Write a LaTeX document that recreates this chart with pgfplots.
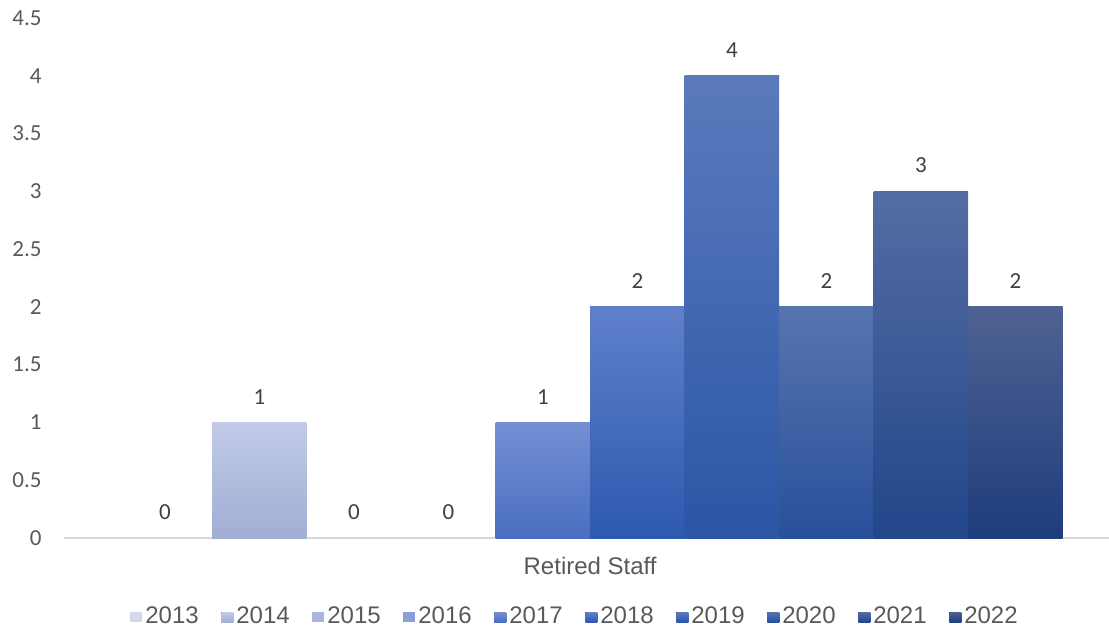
\documentclass[border=0pt]{standalone}
\usepackage{fontspec}
\setmainfont{Liberation Sans}
\newfontfamily\calibri{Carlito}
\usepackage{pgfplots}
\pgfplotsset{compat=1.18}

\definecolor{txt}{HTML}{595959}
\definecolor{lbl}{HTML}{404040}
\definecolor{axl}{HTML}{D9D9D9}

\pgfplotsset{
  s13/.style={fill=c13top},
  s14/.style={top color=c14top, bottom color=c14bot},
  s15/.style={fill=c15top},
  s16/.style={fill=c16top},
  s17/.style={top color=c17top, bottom color=c17bot},
  s18/.style={top color=c18top, bottom color=c18bot},
  s19/.style={top color=c19top, bottom color=c19bot},
  s20/.style={top color=c20top, bottom color=c20bot},
  s21/.style={top color=c21top, bottom color=c21bot},
  s22/.style={top color=c22top, bottom color=c22bot},
}
\definecolor{c13top}{HTML}{D3D8EB}
\definecolor{c14top}{HTML}{C1CAE7}\definecolor{c14bot}{HTML}{A1AED4}
\definecolor{c15top}{HTML}{A9B5DD}
\definecolor{c16top}{HTML}{8A9FD8}
\definecolor{c17top}{HTML}{7490D3}\definecolor{c17bot}{HTML}{4A6EC0}
\definecolor{c18top}{HTML}{5F80CB}\definecolor{c18bot}{HTML}{2D59AE}
\definecolor{c19top}{HTML}{5B7ABD}\definecolor{c19bot}{HTML}{2B56A5}
\definecolor{c20top}{HTML}{5774AF}\definecolor{c20bot}{HTML}{29509A}
\definecolor{c21top}{HTML}{546DA3}\definecolor{c21bot}{HTML}{22468A}
\definecolor{c22top}{HTML}{4F6292}\definecolor{c22bot}{HTML}{1E3D7C}

\begin{document}
\begin{tikzpicture}
\path[use as bounding box] (-32pt,-47.5pt) rectangle (522.5pt,269pt);
\begin{axis}[
  at={(0,0)}, anchor=south west,
  scale only axis, width=522.5pt, height=260pt,
  xmin=-1.067, xmax=9.99, ymin=0, ymax=4.5,
  ytick={0,0.5,1,1.5,2,2.5,3,3.5,4,4.5},
  xtick={4.5}, xticklabels={Retired Staff},
  axis x line*=bottom, axis y line*=left,
  y axis line style={draw=none},
  x axis line style={-, draw=axl, line width=1.3pt},
  major tick length=0pt,
  /pgf/number format/assume math mode=true,
  yticklabel style={font=\calibri\fontsize{11.5}{13}\selectfont, text=txt, anchor=east, inner sep=0pt, xshift=-11pt},
  xticklabel style={font=\fontsize{12}{14}\selectfont, text=txt, anchor=north, inner sep=0pt, yshift=-9.5pt},
  ybar, bar width=1, bar shift=0pt,
  every axis plot/.append style={draw=none},
  nodes near coords,
  nodes near coords style={font=\calibri\fontsize{11.5}{13}\selectfont, text=lbl, anchor=south, inner sep=0pt, yshift=9pt},
  legend columns=10,
  legend image code/.code={\fill[#1] (0pt,-2.5pt) rectangle (6pt,2.5pt);},
  legend style={at={(0.4895,-0.152)}, anchor=center, draw=none, fill=none,
    font=\fontsize{12}{14}\selectfont, text=txt,
    nodes={inner sep=1.5pt},
    /tikz/every even column/.append style={column sep=9.8pt}},
]
\addplot[s13] coordinates {(0,0)};
\addplot[s14] coordinates {(1,1)};
\addplot[s15] coordinates {(2,0)};
\addplot[s16] coordinates {(3,0)};
\addplot[s17] coordinates {(4,1)};
\addplot[s18] coordinates {(5,2)};
\addplot[s19] coordinates {(6,4)};
\addplot[s20] coordinates {(7,2)};
\addplot[s21] coordinates {(8,3)};
\addplot[s22] coordinates {(9,2)};
\legend{2013,2014,2015,2016,2017,2018,2019,2020,2021,2022}
\end{axis}
\end{tikzpicture}
\end{document}
